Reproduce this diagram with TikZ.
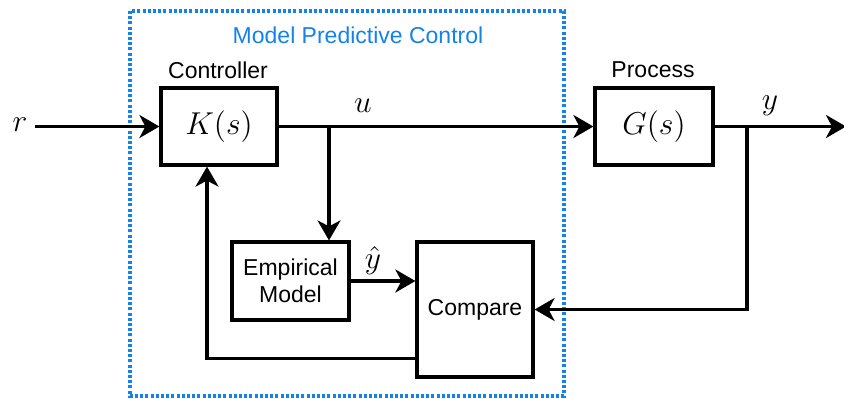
\RequirePackage{fix-cm}
\documentclass[tikz,border=0pt]{standalone}
\usepackage{fontspec}
\setmainfont{Liberation Sans}
\usepackage{tikz}
\usetikzlibrary{arrows.meta}
\definecolor{mpcblue}{RGB}{20,130,235}
\newcommand{\txtsize}{\fontsize{11.5}{13.5}\selectfont}
\newcommand{\mathsize}{\fontsize{15.8}{18}\selectfont}
\tikzset{blk/.style={draw, line width=1.6pt, inner sep=0pt,
  minimum width=58pt, minimum height=38.5pt, align=center}}
\tikzset{sig/.style={line width=1.6pt, -{Stealth[length=10pt, width=11.5pt, inset=3pt]}}}
\tikzset{lbl/.style={inner sep=0pt, font=\txtsize}}
\tikzset{mlbl/.style={inner sep=0pt, font=\mathsize}}

\begin{document}
\begin{tikzpicture}[x=0.5pt, y=-0.5pt]
\useasboundingbox (0,0) rectangle (844,398);

\draw[mpcblue, line width=1.6pt, dash pattern=on 1.5pt off 1.1pt] (130,11) rectangle (564,396);
\node[lbl, text=mpcblue] (mpc) at (358,35) {Model Predictive Control};

\node[blk, font=\mathsize] (K) at (219,126.5) {$K(s)$};
\node[lbl] (ctrl) at (218,70) {Controller};
\node[blk, font=\mathsize, minimum width=59pt] (G) at (654,126.5) {$G(s)$};
\node[lbl] (proc) at (653,70) {Process};
\node[blk, font=\txtsize, minimum width=58.5pt, minimum height=39pt] (emp) at (290.5,281) {Empirical\\Model};
\node[blk, font=\txtsize, minimum height=67.5pt] (cmp) at (475,309.5) {Compare};

\node[mlbl] (r) at (20,125) {$r$};
\node[mlbl] (u) at (363,106) {$u$};
\node[mlbl] (y) at (770,106) {$y$};
\node[mlbl] (yhat) at (373,261) {$\hat{y}$};

\coordinate (rin) at (35,126.5);
\coordinate (ubr) at (329,126.5);
\coordinate (ybr) at (747,126.5);
\coordinate (yout) at (846,126.5);

\draw[sig] (rin) -- (K.west);
\draw[sig] (K.east) -- (G.west);
\draw[sig] (ubr) -- (ubr |- emp.north);
\draw[sig] (G.east) -- (yout);
\draw[sig] (ybr) |- (cmp.east);
\draw[sig] (emp.east) -- (emp.east -| cmp.west);
\draw[sig] ([yshift=10pt]cmp.south west) -| ([xshift=-6pt]K.south);

\end{tikzpicture}
\end{document}
